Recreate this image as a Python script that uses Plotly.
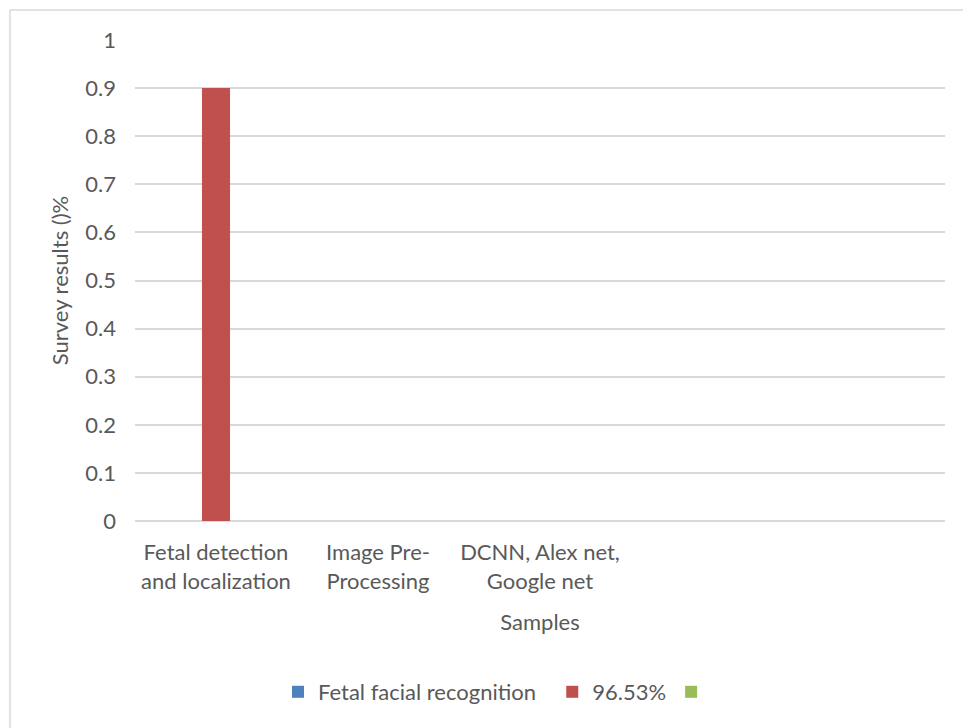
import plotly.graph_objects as go

categories = ["Fetal detection<br>and localization", "Image Pre-<br>Processing",
              "DCNN, Alex net,<br>Google net", " ", "  "]
series_names = ["Fetal facial recognition\u00a0\u00a0", "96.53%", " "]
blue_vals = [None, None, None, None, None]
red_vals = [0.9, None, None, None, None]
green_vals = [None, None, None, None, None]
colors = ["#4f81bd", "#c0504d", "#9bbb59"]

W, H = 963, 728
L, R, T, B = 135, 18, 40, 207

fig = go.Figure()
for name, vals, c in zip(series_names, [blue_vals, red_vals, green_vals], colors):
    fig.add_trace(go.Bar(x=categories, y=vals, name=name, marker_color=c,
                         marker_line_width=0))

font = dict(family="Lato, Carlito, sans-serif", size=22, color="#595959")
pw = W - L - R
ph = H - T - B

def px(x):
    return (x - L) / pw

def py(y):
    return (H - B - y) / ph

fig.update_layout(
    width=W, height=H,
    margin=dict(l=L, r=R, t=T, b=B),
    paper_bgcolor="white", plot_bgcolor="white",
    font=font,
    barmode="group", bargap=0.48, bargroupgap=0,
    showlegend=True,
    legend=dict(orientation="h", x=px(278), xanchor="left", y=py(692), yanchor="middle",
                font=font, itemwidth=30, traceorder="normal"),
    xaxis=dict(showgrid=False, showline=False, zeroline=False,
               ticks="", ticklabelstandoff=16, tickfont=font,
               title=dict(text="Samples", font=font, standoff=22)),
    yaxis=dict(range=[0, 1], dtick=0.1, tickformat="", showgrid=True,
               gridcolor="#d9d9d9", gridwidth=1.5, zeroline=True,
               zerolinecolor="#d9d9d9", zerolinewidth=1.5, showline=False,
               ticks="", ticklabelstandoff=18, tickfont=font,
               title=dict(text="Survey results ()%", font=font, standoff=10)),
    shapes=[
        dict(type="line", xref="paper", yref="paper", x0=px(10), x1=px(970),
             y0=py(10), y1=py(10), line=dict(color="#d9d9d9", width=1.5)),
        dict(type="line", xref="paper", yref="paper", x0=px(10), x1=px(10),
             y0=py(10), y1=py(740), line=dict(color="#d9d9d9", width=1.5)),
    ],
)
fig.write_html("out.html")
